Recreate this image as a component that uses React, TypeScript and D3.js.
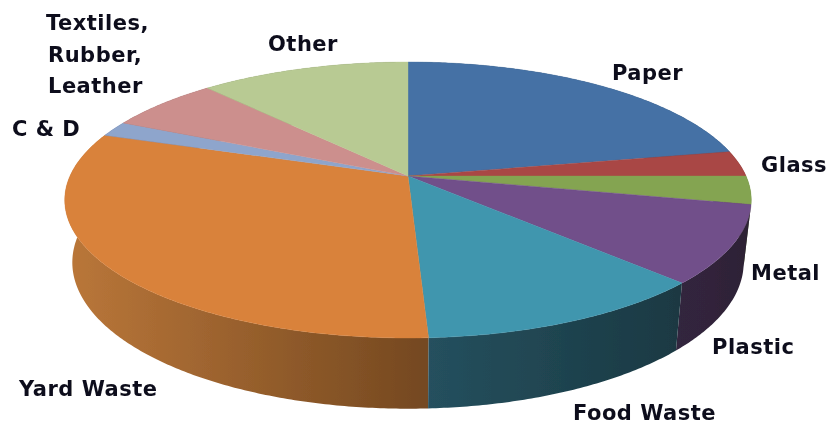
import React from "react";
import * as d3 from "d3";

const categories = ["Paper", "Glass", "Green Waste", "Metal", "Plastic", "Food Waste", "C & D", "Textiles", "Other"];
const shares = [22, 3, 3.3, 9.1, 11.8, 31, 1.8, 6.3, 11.7];
const topColors = ["#4571a5", "#a94744", "#84a451", "#714f8a", "#3f96ae", "#d9823b", "#8ea5cc", "#cc8f8d", "#b8ca93"];
const sideLeft = ["#2a4566", "#692c2a", "#526632", "#33253f", "#25505e", "#b97639", "#58668a", "#7e5958", "#727d5b"];
const sideRight = ["#2a4566", "#692c2a", "#526632", "#2e2336", "#1a3943", "#744820", "#58668a", "#7e5958", "#727d5b"];

const labelTexts = ["Paper", "Glass", "Metal", "Plastic", "Food Waste", "Yard Waste", "C & D", "Textiles,", "Rubber,", "Leather", "Other"];
const labelX = [612, 761, 751, 712, 573, 19, 12, 46, 48, 48, 268];
const labelY = [80, 172, 280, 354, 420, 396, 136, 30, 62, 93, 51];

const W = 827;
const H = 424;
const CX = 408;
const TOP_Y = 176;
const R_X = 338;
const R_Y = 133.8;
const K = 0.174;
const BOTTOM_Y = 237;
const BOTTOM_SX = 0.978;
const BOTTOM_SY = 1.06;

type Pt = [number, number];

const topPoint = (a: number): Pt => {
  const u = Math.sin(a);
  const v = Math.cos(a);
  const w = 1 + K * v;
  return [CX + (R_X * u) / w, TOP_Y - (R_Y * v) / w];
};
const bottomPoint = (a: number): Pt => {
  const u = Math.sin(a);
  const v = Math.cos(a);
  const w = 1 + K * v;
  return [CX + (BOTTOM_SX * R_X * u) / w, BOTTOM_Y - (BOTTOM_SY * R_Y * v) / w];
};

const arcs = d3.pie<number>().sort(null).value((d) => d)(shares);
const line = d3.line<Pt>();

const sample = (a0: number, a1: number): number[] => {
  const n = Math.max(4, Math.ceil((a1 - a0) / 0.01));
  return d3.range(n + 1).map((i) => a0 + ((a1 - a0) * i) / n);
};

export default function App() {
  const order = arcs
    .map((a, i) => ({ a, i, m: Math.cos((a.startAngle + a.endAngle) / 2) }))
    .sort((p, q) => q.m - p.m);
  return (
    <svg
      width={W}
      height={H}
      viewBox={`0 0 ${W} ${H}`}
      style={{ position: "absolute", left: 0, top: 0, background: "#fff" }}
    >
      <defs>
        <filter id="soft" x="-5%" y="-5%" width="110%" height="110%">
          <feGaussianBlur stdDeviation="0.55" />
        </filter>
        <filter id="softText" x="-5%" y="-20%" width="110%" height="140%">
          <feGaussianBlur stdDeviation="0.35" />
        </filter>
        {arcs.map((a, i) => {
          const xs = sample(a.startAngle, a.endAngle).map((t) => bottomPoint(t)[0]);
          return (
            <linearGradient
              key={i}
              id={`side${i}`}
              gradientUnits="userSpaceOnUse"
              x1={d3.min(xs)}
              x2={d3.max(xs)}
              y1={0}
              y2={0}
            >
              <stop offset="0" stopColor={sideLeft[i]} />
              <stop offset="1" stopColor={sideRight[i]} />
            </linearGradient>
          );
        })}
      </defs>
      <g filter="url(#soft)">
        {order.map(({ a, i }) => {
          const t = sample(a.startAngle, a.endAngle);
          const pts = [...t.map(topPoint), ...t.slice().reverse().map(bottomPoint)];
          return <path key={categories[i]} d={line(pts) + "Z"} fill={`url(#side${i})`} />;
        })}
        {arcs.map((a, i) => {
          const t = sample(a.startAngle, a.endAngle);
          const pts: Pt[] = [[CX, TOP_Y], ...t.map(topPoint)];
          return <path key={categories[i]} d={line(pts) + "Z"} fill={topColors[i]} stroke={topColors[i]} strokeWidth={0.4} />;
        })}
      </g>
      <g
        filter="url(#softText)"
        fontFamily="'DejaVu Sans', sans-serif"
        fontWeight={700}
        fontSize={21}
        letterSpacing={0.5}
        fill="#10101c"
      >
        {labelTexts.map((s, i) => (
          <text key={s} x={labelX[i]} y={labelY[i]}>
            {s}
          </text>
        ))}
      </g>
    </svg>
  );
}
